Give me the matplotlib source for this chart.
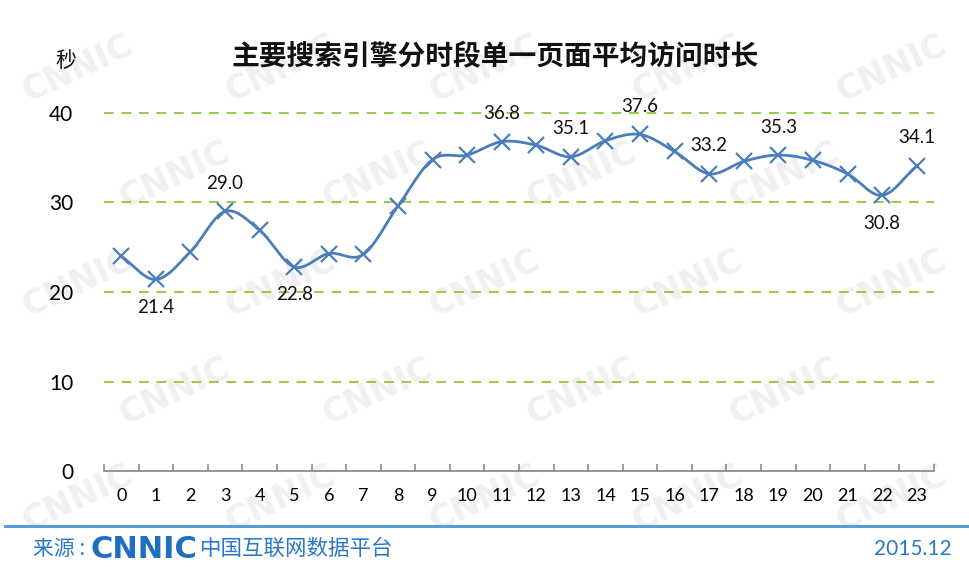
import numpy as np
import matplotlib
matplotlib.use('Agg')
import matplotlib.pyplot as plt

# --- Data -------------------------------------------------------------------
hours = list(range(24))
seconds = [24.0, 21.4, 24.5, 29.0, 26.9, 22.8, 24.3, 24.2, 29.6, 34.8, 35.3, 36.8,
           36.4, 35.1, 36.9, 37.6, 35.7, 33.2, 34.6, 35.3, 34.7, 33.2, 30.8, 34.1]
# which points carry a value label, and whether it sits below the mark
label_idx = [1, 3, 5, 11, 13, 15, 17, 19, 22, 23]
label_below = [1, 5, 22]
y_ticks = [0, 10, 20, 30, 40]

TITLE = '主要搜索引擎分时段单一页面平均访问时长'
UNIT = '秒'
SOURCE = '来源 :'
SOURCE_NAME = '中国互联网数据平台'
DATE = '2015.12'

LINE_COLOR = '#4a7ebb'
GRID_COLOR = '#8fce4a'
FOOT_COLOR = '#2b78c5'
CJK = ['Noto Sans CJK SC', 'DejaVu Sans']
NUM = ['Lato', 'DejaVu Sans']


def catmull_rom(x, y, n=20):
    # smoothed line through the points, like Excel's "smoothed line"
    x = np.asarray(x, float)
    y = np.asarray(y, float)
    px = np.concatenate([[2 * x[0] - x[1]], x, [2 * x[-1] - x[-2]]])
    py = np.concatenate([[2 * y[0] - y[1]], y, [2 * y[-1] - y[-2]]])
    xs, ys = [], []
    t = np.linspace(0, 1, n, endpoint=False)
    for i in range(1, len(px) - 2):
        for arr, out in ((px, xs), (py, ys)):
            p0, p1, p2, p3 = arr[i - 1], arr[i], arr[i + 1], arr[i + 2]
            out.extend(0.5 * ((2 * p1) + (-p0 + p2) * t
                              + (2 * p0 - 5 * p1 + 4 * p2 - p3) * t ** 2
                              + (-p0 + 3 * p1 - 3 * p2 + p3) * t ** 3))
    xs.append(x[-1])
    ys.append(y[-1])
    return np.array(xs), np.array(ys)


fig = plt.figure(figsize=(9.69, 5.67), dpi=100)
fig.patch.set_facecolor('white')

# faint CNNIC watermark tiles, in a background axes behind everything
bg = fig.add_axes([0, 0, 1, 1], zorder=-5)
bg.set_axis_off()
bg.set_xlim(0, 1)
bg.set_ylim(0, 1)
for r in range(5):
    for c in range(5):
        xw = 0.08 + c * 0.21 + (r % 2) * 0.10
        yw = 0.88 - r * 0.19
        if xw > 0.93:
            continue
        bg.text(xw, yw, 'CNNIC', fontsize=24, fontweight='bold', color='#f0f0f0',
                rotation=25, ha='center', va='center')

ax = fig.add_axes([104 / 969, 96 / 567, 830 / 969, 358 / 567])
ax.patch.set_alpha(0)
ax.set_xlim(-0.5, 23.5)
ax.set_ylim(0, 40)

for yv in y_ticks[1:]:
    ax.axhline(yv, color=GRID_COLOR, lw=1.4, ls=(0, (5, 4)), zorder=1, clip_on=False)

sx, sy = catmull_rom(hours, seconds)
ax.plot(sx, sy, color=LINE_COLOR, lw=2.0, zorder=3, clip_on=False)
ax.plot(hours, seconds, ls='none', marker='x', ms=11, mew=1.6, color=LINE_COLOR,
        zorder=4, clip_on=False)

for i in label_idx:
    below = i in label_below
    ax.annotate(f'{seconds[i]:.1f}', (hours[i], seconds[i]),
                xytext=(0, -14 if below else 14), textcoords='offset points',
                ha='center', va='top' if below else 'bottom',
                fontsize=13.5, family=NUM, color='#111111', annotation_clip=False)

for side in ('top', 'right', 'left'):
    ax.spines[side].set_visible(False)
ax.spines['bottom'].set_color('#8c8c8c')
ax.spines['bottom'].set_linewidth(1.3)

ax.set_xticks(hours)
ax.set_xticklabels([str(h) for h in hours], family=NUM, fontsize=13)
ax.set_xticks(np.arange(-0.5, 24, 1), minor=True)
ax.tick_params(axis='x', which='major', length=0, pad=12)
ax.tick_params(axis='x', which='minor', direction='in', length=5, color='#8c8c8c', width=1.2)
ax.set_yticks(y_ticks)
ax.set_yticklabels([str(v) for v in y_ticks], family=NUM, fontsize=15)
ax.tick_params(axis='y', length=0, pad=22)

fig.text(495 / 969, 1 - 57 / 567, TITLE, family=CJK, fontsize=20, fontweight='bold',
         ha='center', va='center', color='#111111')
fig.text(66 / 969, 1 - 61 / 567, UNIT, family=CJK, fontsize=15, ha='center', va='center',
         color='#111111')

# footer
fig.add_artist(plt.Line2D([0.005, 1.0], [1 - 526 / 567] * 2, color='#5b9bd5', lw=2.2))
fy = 1 - 549 / 567
fig.text(33 / 969, fy, SOURCE, family=CJK, fontsize=15, color=FOOT_COLOR, va='center')
fig.text(90 / 969, fy, 'CNNIC', family='DejaVu Sans', fontsize=22, fontweight='heavy',
         color='#1e6fc0', va='center')
fig.text(200 / 969, fy, SOURCE_NAME, family=CJK, fontsize=15.5, color=FOOT_COLOR, va='center')
fig.text(952 / 969, fy, DATE, family=NUM, fontsize=15, color=FOOT_COLOR, ha='right', va='center')

fig.savefig('out.png', dpi=100)
